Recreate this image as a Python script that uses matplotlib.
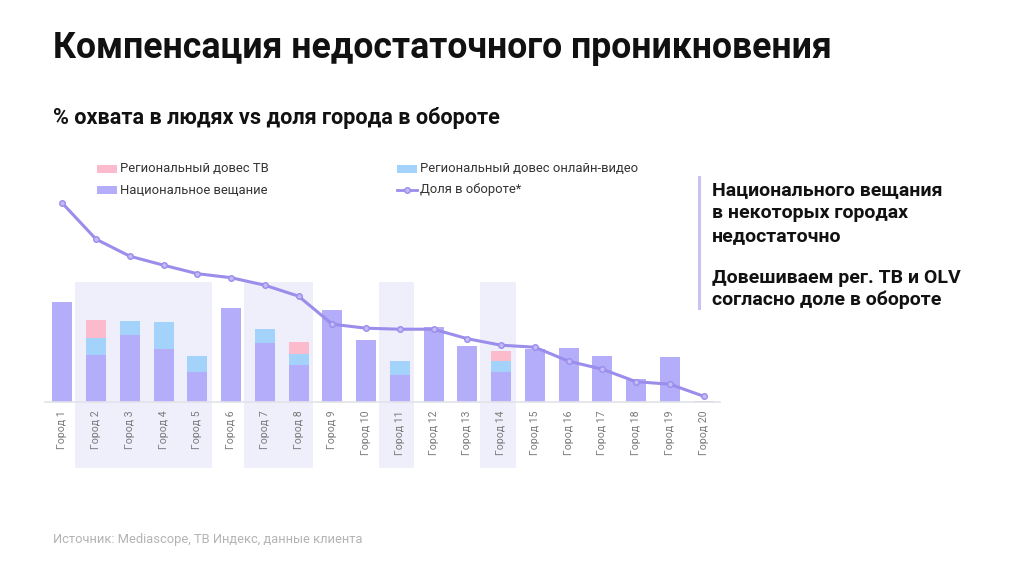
import matplotlib
matplotlib.use("Agg")
import matplotlib.pyplot as plt
from matplotlib.patches import Rectangle
from matplotlib.lines import Line2D

plt.rcParams['font.family'] = ['Roboto', 'DejaVu Sans']

# ---- data ----
cities = [f"Город {i}" for i in range(1, 21)]
national = [20.0, 9.3, 13.3, 10.6, 5.9, 18.7, 11.7, 7.3, 18.3, 12.3,
            5.3, 15.0, 11.2, 6.0, 10.5, 10.7, 9.1, 4.5, 8.9, 0.2]
reg_olv = [0, 3.5, 2.9, 5.4, 3.2, 0, 2.8, 2.2, 0, 0,
           2.9, 0, 0, 2.1, 0, 0, 0, 0, 0, 0]
reg_tv = [0, 3.5, 0, 0, 0, 0, 0, 2.4, 0, 0,
          0, 0, 0, 2.0, 0, 0, 0, 0, 0, 0]
share = [39.7, 32.5, 29.1, 27.3, 25.6, 24.8, 23.3, 21.1, 15.5, 14.7,
         14.5, 14.5, 12.6, 11.3, 10.9, 8.1, 6.5, 4.0, 3.5, 1.1]
highlight_groups = [(1, 4), (6, 7), (10, 10), (13, 13)]

legend_labels = ["Региональный довес ТВ", "Региональный довес онлайн-видео",
                 "Национальное вещание", "Доля в обороте*"]

C_NAT = "#B4ADF9"
C_OLV = "#A3D3FA"
C_TV = "#FBBBCD"
C_SHADE = "#EFEFFC"
C_LINE = "#9A8DEB"

W, H = 1024, 576
fig = plt.figure(figsize=(W / 100, H / 100), dpi=100)

def fx(px):
    return px / W

def fy(py):
    return 1 - py / H

# axes: baseline at y=401.7px, x from 45 to 720px
ax = fig.add_axes([fx(45), fy(401.7), fx(720) - fx(45), fy(191.7) - fy(401.7)])
ax.set_xlim(-0.513, 19.487)
ax.set_ylim(0, 42)
ax.patch.set_alpha(0)

x = list(range(len(cities)))

# highlight shading
for a, b in highlight_groups:
    ax.add_patch(Rectangle((a - 0.62, -13.3), (b + 0.43) - (a - 0.62), 24.0 + 13.3,
                           facecolor=C_SHADE, edgecolor="none", zorder=0, clip_on=False))

bw = 0.59
ax.bar(x, national, width=bw, color=C_NAT, zorder=2)
bottom2 = [n for n in national]
ax.bar(x, reg_olv, width=bw, bottom=bottom2, color=C_OLV, zorder=2)
bottom3 = [n + o for n, o in zip(national, reg_olv)]
ax.bar(x, reg_tv, width=bw, bottom=bottom3, color=C_TV, zorder=2)

ax.plot(x, share, color=C_LINE, lw=2.2, zorder=3, marker="o", markersize=4.0,
        markerfacecolor="#C3BBF7", markeredgecolor=C_LINE, markeredgewidth=1.0)

for s in ["top", "right", "left"]:
    ax.spines[s].set_visible(False)
ax.spines["bottom"].set_color("#E2E2EA")
ax.spines["bottom"].set_linewidth(1.2)
ax.set_yticks([])
ax.set_xticks(x)
ax.set_xticklabels(cities, rotation=90, fontsize=7.6, color="#7A7A7A")
ax.tick_params(axis="x", length=0, pad=6)

# titles
fig.text(fx(53), fy(48), "Компенсация недостаточного проникновения", fontsize=25.7,
         fontweight="bold", color="#111111", va="center", ha="left")
fig.text(fx(53), fy(118), "% охвата в людях vs доля города в обороте", fontsize=15.6,
         fontweight="bold", color="#111111", va="center", ha="left")

# legend (manual)
leg_fs = 9.4
def patch_item(px, py, color, label):
    fig.patches.append(Rectangle((fx(px), fy(py + 4)), fx(20), fy(0) - fy(8),
                                 transform=fig.transFigure, facecolor=color,
                                 edgecolor="none"))
    fig.text(fx(px + 23), fy(py), label, fontsize=leg_fs, color="#333333",
             va="center", ha="left")

patch_item(97, 169, C_TV, legend_labels[0])
patch_item(397, 169, C_OLV, legend_labels[1])
patch_item(97, 190, C_NAT, legend_labels[2])
fig.lines.append(Line2D([fx(397), fx(417)], [fy(190), fy(190)], transform=fig.transFigure,
                        color=C_LINE, lw=2.0, marker=None))
fig.lines.append(Line2D([fx(407)], [fy(190)], transform=fig.transFigure,
                        color=C_LINE, marker="o", markersize=4.0,
                        markerfacecolor="#C3BBF7", markeredgecolor=C_LINE))
fig.text(fx(420), fy(190), legend_labels[3], fontsize=leg_fs, color="#333333",
         va="center", ha="left")

# right commentary
fig.lines.append(Line2D([fx(699), fx(699)], [fy(177), fy(308)], transform=fig.transFigure,
                        color="#C8C3F6", lw=2.2))
right_lines = [("Национального вещания", 190), ("в некоторых городах", 213),
               ("недостаточно", 236), ("Довешиваем рег. ТВ и OLV", 278),
               ("согласно доле в обороте", 300)]
for t, py in right_lines:
    fig.text(fx(712), fy(py), t, fontsize=14.0, fontweight="bold", color="#111111",
             va="center", ha="left")

fig.text(fx(53), fy(540), "Источник: Mediascope, ТВ Индекс, данные клиента",
         fontsize=9.3, color="#B3B3B3", va="center", ha="left")

fig.savefig("out.png", dpi=100, facecolor="white")
